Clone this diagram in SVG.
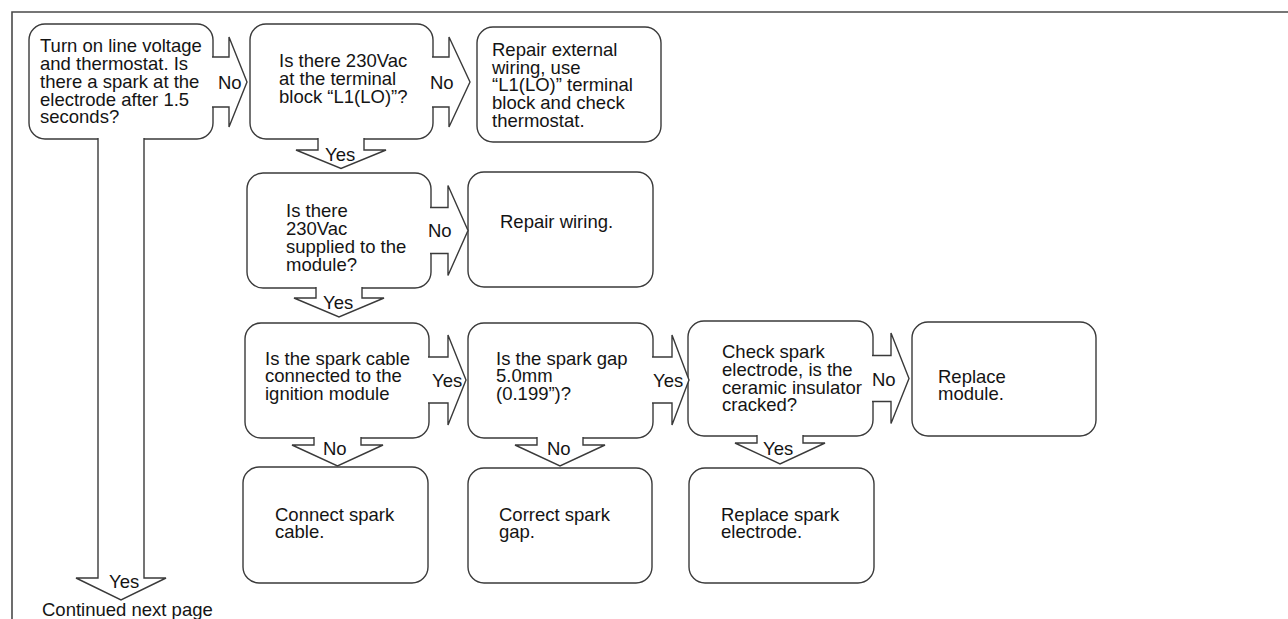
<svg xmlns="http://www.w3.org/2000/svg" width="1288" height="619" viewBox="0 0 1288 619">
  <style>
    .box { fill: #ffffff; stroke: #3a3a3a; stroke-width: 1.4; }
    .arrow { fill: #ffffff; stroke: #3a3a3a; stroke-width: 1.4; stroke-linejoin: miter; }
    .frame { fill: none; stroke: #4a4a4a; stroke-width: 1.6; }
    text { font-family: "Liberation Sans", Arial, sans-serif; font-size: 18.5px; fill: #141414; }
  </style>

  <rect width="1288" height="619" fill="#ffffff"/>

  <!-- page frame: top and left rule -->
  <path class="frame" d="M12,619 V12 H1288"/>

  <!-- step boxes -->
  <g id="node-start">
    <rect class="box" x="29" y="24" width="184" height="115" rx="16"/>
    <text x="40" y="52">Turn on line voltage</text>
    <text x="40" y="70">and thermostat. Is</text>
    <text x="40" y="87.7">there a spark at the</text>
    <text x="40" y="105.5">electrode after 1.5</text>
    <text x="40" y="123.3">seconds?</text>
  </g>

  <g id="node-terminal-voltage">
    <rect class="box" x="250" y="24" width="183" height="115" rx="16"/>
    <text x="279" y="67">Is there 230Vac</text>
    <text x="279" y="84.8">at the terminal</text>
    <text x="279" y="102.6">block “L1(LO)”?</text>
  </g>

  <g id="node-repair-external">
    <rect class="box" x="477" y="27" width="184" height="115" rx="16"/>
    <text x="492" y="56">Repair external</text>
    <text x="492" y="73.7">wiring, use</text>
    <text x="492" y="91.4">“L1(LO)” terminal</text>
    <text x="492" y="109.1">block and check</text>
    <text x="492" y="126.8">thermostat.</text>
  </g>

  <g id="node-module-supply">
    <rect class="box" x="247" y="173" width="184" height="115" rx="16"/>
    <text x="286" y="216.5">Is there</text>
    <text x="286" y="234.5">230Vac</text>
    <text x="286" y="252.5">supplied to the</text>
    <text x="286" y="270.5">module?</text>
  </g>

  <g id="node-repair-wiring">
    <rect class="box" x="468" y="172" width="185" height="115" rx="16"/>
    <text x="500" y="228">Repair wiring.</text>
  </g>

  <g id="node-spark-cable">
    <rect class="box" x="245" y="323" width="184" height="115" rx="16"/>
    <text x="265" y="364.8">Is the spark cable</text>
    <text x="265" y="382.4">connected to the</text>
    <text x="265" y="400">ignition module</text>
  </g>

  <g id="node-spark-gap">
    <rect class="box" x="468" y="323" width="185" height="115" rx="16"/>
    <text x="496" y="364.8">Is the spark gap</text>
    <text x="496" y="382.4">5.0mm</text>
    <text x="496" y="400">(0.199”)?</text>
  </g>

  <g id="node-electrode-check">
    <rect class="box" x="688" y="321" width="185" height="115" rx="16"/>
    <text x="722" y="358">Check spark</text>
    <text x="722" y="375.8">electrode, is the</text>
    <text x="722" y="393.6">ceramic insulator</text>
    <text x="722" y="411.4">cracked?</text>
  </g>

  <g id="node-replace-module">
    <rect class="box" x="912" y="322" width="184" height="114" rx="16"/>
    <text x="938" y="382.5">Replace</text>
    <text x="938" y="400">module.</text>
  </g>

  <g id="node-connect-cable">
    <rect class="box" x="243" y="467" width="185" height="116" rx="16"/>
    <text x="275" y="520.5">Connect spark</text>
    <text x="275" y="538">cable.</text>
  </g>

  <g id="node-correct-gap">
    <rect class="box" x="468" y="468" width="184" height="115" rx="16"/>
    <text x="499" y="520.5">Correct spark</text>
    <text x="499" y="538">gap.</text>
  </g>

  <g id="node-replace-electrode">
    <rect class="box" x="689" y="468" width="185" height="115" rx="16"/>
    <text x="721" y="520.5">Replace spark</text>
    <text x="721" y="538">electrode.</text>
  </g>

  <g id="node-continued">
    <text x="42" y="615.5">Continued next page</text>
  </g>

  <!-- block arrows; open paths so the white fill hides the box edge under each shaft -->
  <g id="connectors">
    <path class="arrow" d="M212,57 H229 V37 L247,82 L229,127 V107 H212"/>
    <text x="218" y="88.5">No</text>

    <path class="arrow" d="M432,57 H449 V37 L470,82 L449,127 V107 H432"/>
    <text x="430" y="88.5">No</text>

    <path class="arrow" d="M98,138 V578 H76 L121,600 L166,578 H144 V138"/>
    <text x="109" y="588">Yes</text>

    <path class="arrow" d="M318,138 V150 H296 L341,168.5 L386,150 H364 V138"/>
    <text x="325" y="161">Yes</text>

    <path class="arrow" d="M430,207.5 H448 V185.5 L468,230.5 L448,275.5 V253.5 H430"/>
    <text x="428" y="236.5">No</text>

    <path class="arrow" d="M316,287 V298 H294 L339,317 L384,298 H362 V287"/>
    <text x="323" y="309">Yes</text>

    <path class="arrow" d="M428,357 H448 V335 L466,380 L448,425 V403 H428"/>
    <text x="432" y="386.5">Yes</text>

    <path class="arrow" d="M652,357 H672 V335 L689,380 L672,425 V403 H652"/>
    <text x="653" y="386.5">Yes</text>

    <path class="arrow" d="M872,355.5 H891 V333 L909,378.5 L891,423.5 V401.5 H872"/>
    <text x="872" y="385.5">No</text>

    <path class="arrow" d="M314,437 V445 H292 L337.5,466 L383,445 H361 V437"/>
    <text x="323" y="454.5">No</text>

    <path class="arrow" d="M537,437 V445 H515 L560,466 L605,445 H583 V437"/>
    <text x="547" y="454.5">No</text>

    <path class="arrow" d="M757,435 V443 H735 L780,464 L825,443 H803 V435"/>
    <text x="763" y="454.5">Yes</text>
  </g>
</svg>
